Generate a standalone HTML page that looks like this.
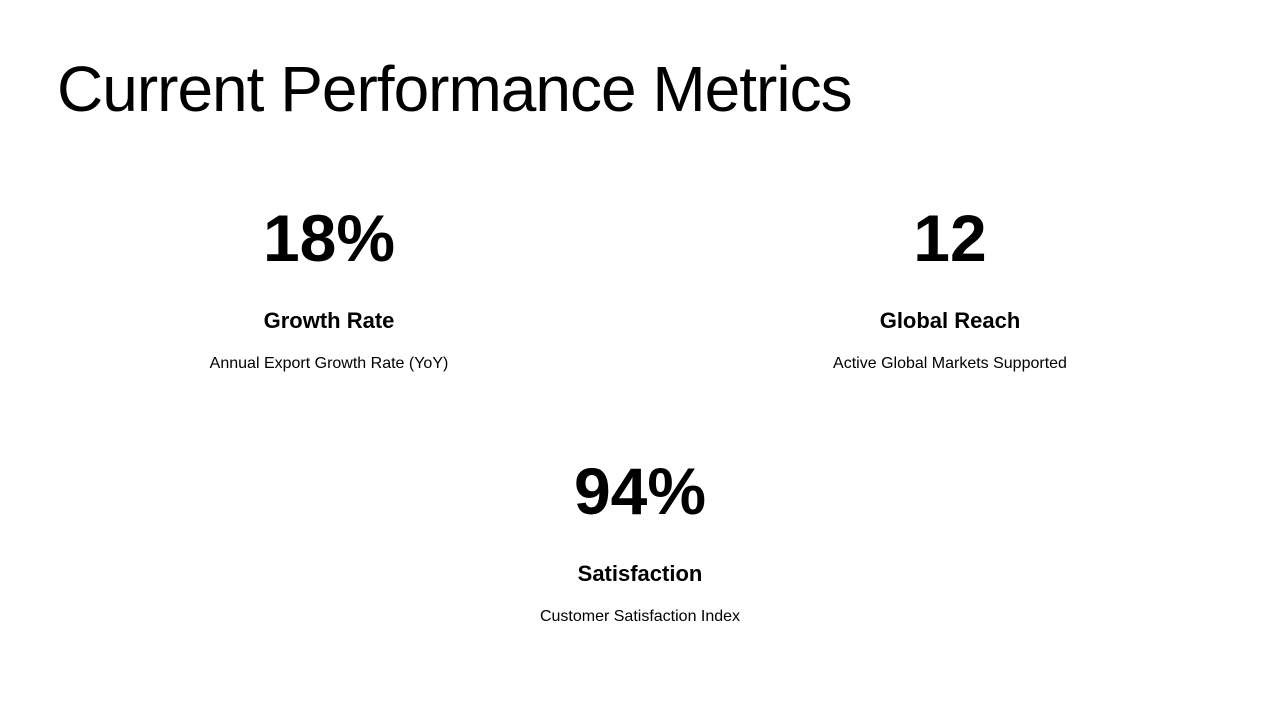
<!DOCTYPE html>
<html><head><meta charset="utf-8"><style>
html,body{margin:0;padding:0;width:1280px;height:720px;background:#fff;overflow:hidden;font-family:"Liberation Sans",sans-serif;color:#000}
h1{position:absolute;left:57px;top:52px;margin:0;font-weight:400;font-size:64px;letter-spacing:-1px;line-height:74px}
.m{position:absolute;width:500px;text-align:center}
.v{font-size:66px;font-weight:700;line-height:80px;letter-spacing:0}
.t{font-size:22px;font-weight:700;margin-top:30px;line-height:26px}
.d{font-size:16px;margin-top:20px;line-height:20px}
</style></head><body>
<h1>Current Performance Metrics</h1>
<div class="m" style="left:79px;top:198px"><div class="v">18%</div><div class="t">Growth Rate</div><div class="d">Annual Export Growth Rate (YoY)</div></div>
<div class="m" style="left:700px;top:198px"><div class="v">12</div><div class="t">Global Reach</div><div class="d">Active Global Markets Supported</div></div>
<div class="m" style="left:390px;top:451px"><div class="v">94%</div><div class="t">Satisfaction</div><div class="d">Customer Satisfaction Index</div></div>
</body></html>
